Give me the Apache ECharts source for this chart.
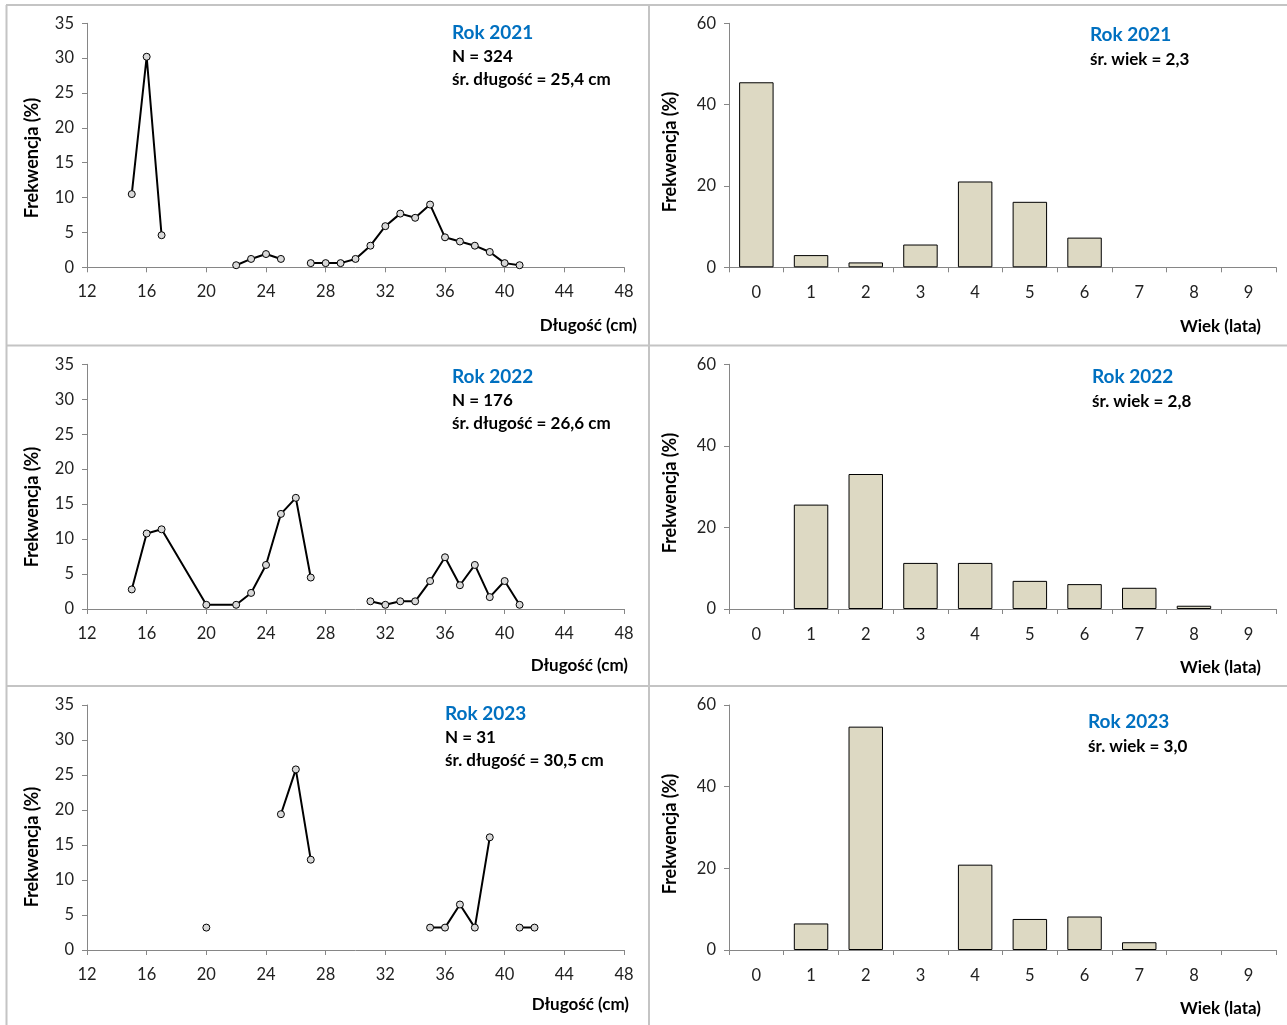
<!DOCTYPE html>
<html>
<head>
<meta charset="utf-8">
<script src="https://cdn.jsdelivr.net/npm/echarts@6/dist/echarts.min.js"></script>
<style>
  html, body { margin: 0; padding: 0; background: #fff; }
  #chart { width: 1287px; height: 1025px; }
</style>
</head>
<body>
<div id="chart"></div>
<script>
// Length-frequency (%) per year; null marks a break in the line
const len2021 = [15, 16, 17, 18, 22, 23, 24, 25, 26, 27, 28, 29, 30, 31, 32, 33, 34, 35, 36, 37, 38, 39, 40, 41];
const freqLen2021 = [10.5, 30.2, 4.6, null, 0.3, 1.2, 1.9, 1.2, null, 0.6, 0.6, 0.6, 1.2, 3.1, 5.9, 7.7, 7.1, 9.0, 4.3, 3.7, 3.1, 2.2, 0.6, 0.3];

const len2022 = [15, 16, 17, 20, 22, 23, 24, 25, 26, 27, 28, 31, 32, 33, 34, 35, 36, 37, 38, 39, 40, 41];
const freqLen2022 = [2.8, 10.8, 11.4, 0.6, 0.6, 2.3, 6.3, 13.6, 15.9, 4.5, null, 1.1, 0.6, 1.1, 1.1, 4.0, 7.4, 3.4, 6.3, 1.7, 4.0, 0.6];

const len2023 = [20, 21, 25, 26, 27, 28, 35, 36, 37, 38, 39, 40, 41, 42];
const freqLen2023 = [3.2, null, 19.4, 25.8, 12.9, null, 3.2, 3.2, 6.5, 3.2, 16.1, null, 3.2, 3.2];

// Age-frequency (%) per year
const ages = ['0', '1', '2', '3', '4', '5', '6', '7', '8', '9'];
const freqAge2021 = [45.5, 3.0, 1.2, 5.6, 21.1, 16.1, 7.3, 0, 0, 0];
const freqAge2022 = [0, 25.6, 33.1, 11.3, 11.3, 6.9, 6.1, 5.2, 0.8, 0];
const freqAge2023 = [0, 6.5, 54.7, 0, 20.9, 7.6, 8.2, 1.9, 0, 0];

// Panel captions
const years = ['Rok 2021', 'Rok 2022', 'Rok 2023'];
const sampleSizes = ['N = 324', 'N = 176', 'N = 31'];
const meanLengths = ['śr. długość = 25,4 cm', 'śr. długość = 26,6 cm', 'śr. długość = 30,5 cm'];
const meanAges = ['śr. wiek = 2,3', 'śr. wiek = 2,8', 'śr. wiek = 3,0'];

const lengthTitle = 'Długość (cm)';
const ageTitle = 'Wiek (lata)';
const freqTitle = 'Frekwencja (%)';

const FONT = 'Lato, "Open Sans", sans-serif';
const AXIS_COLOR = '#868686';
const BLUE = '#0070C0';

const rowTops = [23.3, 364.3, 705];
const rowHeights = [244, 244.7, 245];

const lineSets = [[len2021, freqLen2021], [len2022, freqLen2022], [len2023, freqLen2023]];
const barSets = [freqAge2021, freqAge2022, freqAge2023];

const grids = [], xAxes = [], yAxes = [], series = [];

const tickLabel = (margin) => ({ color: '#222', fontFamily: FONT, fontSize: 16.5, margin });

for (let r = 0; r < 3; r++) {
  // length chart (left)
  grids.push({ left: 87, top: rowTops[r], width: 537, height: rowHeights[r] });
  xAxes.push({
    gridIndex: 2 * r, type: 'value', min: 12, max: 48, interval: 4,
    axisLine: { lineStyle: { color: AXIS_COLOR, width: 1 } },
    axisTick: { show: true, inside: false, length: 5, lineStyle: { color: AXIS_COLOR } },
    axisLabel: tickLabel(16),
    splitLine: { show: false }
  });
  yAxes.push({
    gridIndex: 2 * r, type: 'value', min: 0, max: 35, interval: 5,
    axisLine: { show: true, lineStyle: { color: AXIS_COLOR, width: 1 } },
    axisTick: { show: true, inside: false, length: 5, lineStyle: { color: AXIS_COLOR } },
    axisLabel: tickLabel(13),
    splitLine: { show: false }
  });
  const [xs, ys] = lineSets[r];
  series.push({
    type: 'line', xAxisIndex: 2 * r, yAxisIndex: 2 * r,
    data: xs.map((x, i) => [x, ys[i] === null ? '-' : ys[i]]),
    connectNulls: false,
    showSymbol: true, showAllSymbol: true,
    symbol: 'circle', symbolSize: 7,
    itemStyle: { color: '#d9d9d9', borderColor: '#000', borderWidth: 1 },
    lineStyle: { color: '#000', width: 2 },
    animation: false, silent: true
  });

  // age chart (right)
  grids.push({ left: 729, top: rowTops[r], width: 547, height: rowHeights[r] });
  xAxes.push({
    gridIndex: 2 * r + 1, type: 'category', data: ages, boundaryGap: true,
    axisLine: { lineStyle: { color: AXIS_COLOR, width: 1 } },
    axisTick: { show: true, inside: false, length: 5, alignWithLabel: false, lineStyle: { color: AXIS_COLOR } },
    axisLabel: tickLabel(17),
    splitLine: { show: false }
  });
  yAxes.push({
    gridIndex: 2 * r + 1, type: 'value', min: 0, max: 60, interval: 20,
    axisLine: { show: true, lineStyle: { color: AXIS_COLOR, width: 1 } },
    axisTick: { show: true, inside: false, length: 5, lineStyle: { color: AXIS_COLOR } },
    axisLabel: tickLabel(13),
    splitLine: { show: false }
  });
  series.push({
    type: 'bar', xAxisIndex: 2 * r + 1, yAxisIndex: 2 * r + 1,
    data: barSets[r].map(v => (v === 0 ? '-' : v)),
    barWidth: '63%',
    itemStyle: { color: '#ddd9c3', borderColor: '#000', borderWidth: 1 },
    animation: false, silent: true
  });
}

// Panel frames and captions
const BORDER = '#c4c4c4';
const graphics = [];
const hLine = (y, x1, x2) => graphics.push({ type: 'line', shape: { x1, y1: y, x2, y2: y }, style: { stroke: BORDER, lineWidth: 2 } });
const vLine = (x, y1, y2) => graphics.push({ type: 'line', shape: { x1: x, y1, x2: x, y2 }, style: { stroke: BORDER, lineWidth: 2 } });
hLine(5, 6, 1287);
hLine(345.5, 6, 1287);
hLine(686, 6, 1287);
vLine(6.5, 5, 1025);
vLine(649, 5, 1025);

const txt = (x, y, text, opts) => graphics.push({
  type: 'text', x, y,
  style: Object.assign({ text, fontFamily: FONT, fontWeight: 'bold', fill: '#000', textVerticalAlign: 'middle', fontSize: 17 }, opts || {})
});
// rotated value-axis title
const vTitle = (x, y) => graphics.push({
  type: 'text', x, y, rotation: Math.PI / 2,
  style: { text: freqTitle, fontFamily: FONT, fontWeight: 'bold', fill: '#000', fontSize: 18, textAlign: 'center', textVerticalAlign: 'middle' }
});

const capLeftX = [452, 452, 445];
const capLeftY = [33, 377, 714];
const capRightX = [1090, 1092, 1088];
const capRightY = [35, 377, 722];
const axisTitleY = [[326, 327], [666, 668], [1005, 1009]];
const lenTitleRight = [637, 628, 629];
const vTitleLeftY = [158, 507, 847];
const vTitleRightY = [152, 493, 834];

for (let r = 0; r < 3; r++) {
  txt(capLeftX[r], capLeftY[r], years[r], { fill: BLUE, fontSize: 19 });
  txt(capLeftX[r], capLeftY[r] + 24, sampleSizes[r]);
  txt(capLeftX[r], capLeftY[r] + 47, meanLengths[r]);
  txt(capRightX[r], capRightY[r], years[r], { fill: BLUE, fontSize: 19 });
  txt(capRightX[r], capRightY[r] + 25, meanAges[r]);
  txt(lenTitleRight[r], axisTitleY[r][0], lengthTitle, { textAlign: 'right' });
  txt(1261, axisTitleY[r][1], ageTitle, { textAlign: 'right' });
  vTitle(32, vTitleLeftY[r]);
  vTitle(670, vTitleRightY[r]);
}

const chart = echarts.init(document.getElementById('chart'), null, { renderer: 'canvas' });
chart.setOption({
  animation: false,
  backgroundColor: '#fff',
  grid: grids,
  xAxis: xAxes,
  yAxis: yAxes,
  series: series,
  graphic: graphics
});
</script>
</body>
</html>
